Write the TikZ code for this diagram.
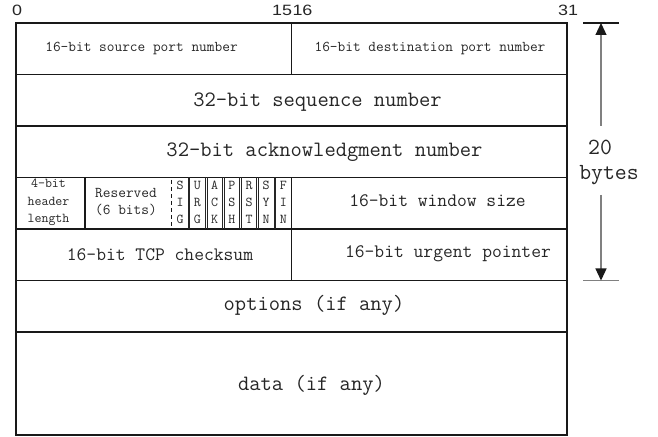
\documentclass[tikz,border=0pt]{standalone}
\usepackage{fontspec}
\newfontfamily\bitfont[FakeStretch=1.2]{Liberation Sans}
\usetikzlibrary{arrows.meta}
\begin{document}
\begin{tikzpicture}[x=1bp,y=-1bp,
  frame/.style={line width=1.5bp,draw=black!90},
  flagline/.style={line width=0.75bp,draw=black!85},
  txt/.style={inner sep=0pt,outer sep=0pt,text=black!85,anchor=base},
  bigtxt/.style={txt,font=\ttfamily\fontsize{22}{25}\selectfont},
  midtxt/.style={txt,font=\ttfamily\fontsize{19.1}{22}\selectfont},
  smalltxt/.style={txt,font=\ttfamily\fontsize{15}{18}\selectfont},
  tinytxt/.style={txt,font=\ttfamily\fontsize{13.6}{16}\selectfont},
  bitnum/.style={txt,font=\bitfont\fontsize{15}{18}\selectfont},
  sizetxt/.style={txt,font=\ttfamily\fontsize{23.2}{27}\selectfont},
  sizeline/.style={line width=1.2bp,draw=black!50},
  sizetip/.style={-{Triangle[length=12bp,width=11bp,color=black!90]}},
]
\useasboundingbox (0,0) rectangle (658,437);

% outer frame and row separators
\draw[frame] (16,23) rectangle (567,435);
\foreach \yy in {74.5,126,177.5,229,280.5,332}
  \draw[frame] (16,\yy) -- (567,\yy);

% vertical field boundaries
\draw[frame] (291.5,23) -- (291.5,74.5);
\draw[frame] (291.5,177.5) -- (291.5,280.5);
\draw[frame] (85,177.5) -- (85,229);
\draw[line width=1.5bp,draw=black!90,dash pattern=on 4.5bp off 2.5bp]
  (171.6,180) -- (171.6,229);

% flag bits: each one-bit cell has its own border
\foreach \k in {1,...,6} {
  \pgfmathsetmacro\xx{171.6+17.2*\k}
  \draw[flagline] (\xx-0.9,177.5) -- (\xx-0.9,229);
  \draw[flagline] (\xx+0.9,177.5) -- (\xx+0.9,229);
}
\foreach \fa/\fb/\fc [count=\k] in {S/I/G,U/R/G,A/C/K,P/S/H,R/S/T,S/Y/N,F/I/N} {
  \pgfmathsetmacro\xx{171.6+17.2*(\k-0.5)}
  \node[tinytxt] (flag\k a) at (\xx,190) {\fa};
  \node[tinytxt] (flag\k b) at (\xx,207) {\fb};
  \node[tinytxt] (flag\k c) at (\xx,224) {\fc};
}

% bit numbers
\node[bitnum] (b0) at (17,15.5) {0};
\node[bitnum,anchor=base east] (b15) at (292,15.5) {15};
\node[bitnum,anchor=base west] (b16) at (292.5,15.5) {16};
\node[bitnum] (b31) at (568,15.5) {31};

% field labels
\node[smalltxt] (srcport) at (141.5,52) {16-bit source port number};
\node[smalltxt] (dstport) at (430,52) {16-bit destination port number};
\node[bigtxt] (seq) at (317.5,106.5) {32-bit sequence number};
\node[bigtxt] (ack) at (324.5,157) {32-bit acknowledgment number};
\node[tinytxt] (hlen1) at (48.5,188) {4-bit};
\node[tinytxt] (hlen2) at (48.5,206) {header};
\node[tinytxt] (hlen3) at (48.5,223) {length};
\node[smalltxt] (resv1) at (126,198) {Reserved};
\node[smalltxt] (resv2) at (126,215) {(6 bits)};
\node[midtxt] (win) at (437.5,207) {16-bit window size};
\node[midtxt] (csum) at (160,261) {16-bit TCP checksum};
\node[midtxt] (urg) at (448,258) {16-bit urgent pointer};
\node[bigtxt] (opt) at (314,311) {options (if any)};
\node[bigtxt] (data) at (311.5,390) {data (if any)};

% header size marker
\node[sizetxt] (twenty) at (600,155) {20};
\node[sizetxt] (bytes) at (609,180) {bytes};
\coordinate (tickTL) at (583,23);
\coordinate (tickTR) at (619,23);
\coordinate (tickBL) at (583,280.5);
\coordinate (tickBR) at (619,280.5);
\coordinate (upStart) at (601,126);
\coordinate (upTip) at (601,23);
\coordinate (downStart) at (601,195);
\coordinate (downTip) at (601,280.5);
\draw[line width=1.2bp,draw=black!90] (tickTL) -- (tickTR);
\draw[sizeline] (tickBL) -- (tickBR);
\draw[sizeline,sizetip] (upStart) -- (upTip);
\draw[sizeline,sizetip] (downStart) -- (downTip);
\end{tikzpicture}
\end{document}
